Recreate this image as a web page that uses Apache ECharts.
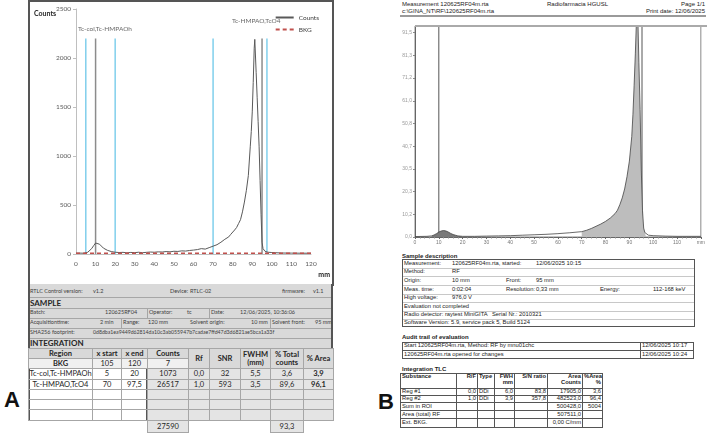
<!DOCTYPE html>
<html>
<head>
<meta charset="utf-8">
<script src="https://cdn.jsdelivr.net/npm/echarts@6/dist/echarts.min.js"></script>
<style>
body{margin:0;width:708px;height:433px;background:#fff;position:relative;overflow:hidden;font-family:Lato,sans-serif;}
#chartA{position:absolute;left:28px;top:0;width:306px;height:286px;border:2px solid #555;box-sizing:border-box;}
#chartB{position:absolute;left:380px;top:20px;width:328px;height:232px;}
.t{position:absolute;white-space:nowrap;line-height:1;}
.bx{position:absolute;box-sizing:border-box;}
table{position:absolute;border-collapse:collapse;table-layout:fixed;}
table td,table th{padding:0;line-height:1;white-space:nowrap;overflow:hidden;}
#tA td,#tA th{border:1px solid #a6a6a6;font-size:7.5px;text-align:center;color:#262626;}
#tA th{background:#d9d9d9;font-weight:700;}
#tA .bk{background:#f0f0f0;}
#tA .g{background:#e4e4e4;}
#tA .nb{border:none;background:none;}
#tB{font-family:"Liberation Sans",Arial,sans-serif;}
#tB td{border:1px solid #555;font-size:5.8px;color:#222;text-align:right;padding:0 1px;}
#tB .l{text-align:left;}
#tB .hd td{font-weight:700;vertical-align:top;}
</style>
</head>
<body>
<div id="chartA"></div>
<div id="chartB"></div>
<div id="layer"></div>

<table id="tA" style="left:28px;top:348px;width:305px">
<colgroup><col style="width:64px"><col style="width:29px"><col style="width:26px"><col style="width:41px"><col style="width:21px"><col style="width:31px"><col style="width:30px"><col style="width:33px"><col style="width:30px"></colgroup>
<tr style="height:10px"><th>Region</th><th>x start</th><th>x end</th><th>Counts</th><th rowspan="2">Rf</th><th rowspan="2">SNR</th><th rowspan="2">FWHM<br>(mm)</th><th rowspan="2">% Total<br>counts</th><th rowspan="2">% Area</th></tr>
<tr style="height:10px"><td class="bk"><b>BKG</b></td><td class="bk">105</td><td class="bk">120</td><td class="bk">7</td></tr>
<tr style="height:11px"><td>Tc-col,Tc-HMPAOh</td><td>5</td><td>20</td><td class="g">1073</td><td class="g">0,0</td><td class="g">32</td><td class="g">5,5</td><td class="g">3,6</td><td class="g"><b>3,9</b></td></tr>
<tr style="height:10px"><td>Tc-HMPAO,TcO4</td><td>70</td><td>97,5</td><td class="g">26517</td><td class="g">1,0</td><td class="g">593</td><td class="g">3,5</td><td class="g">89,6</td><td class="g"><b>96,1</b></td></tr>
<tr style="height:10px"><td></td><td></td><td></td><td class="g"></td><td class="g"></td><td class="g"></td><td class="g"></td><td class="g"></td><td class="g"></td></tr>
<tr style="height:10px"><td></td><td></td><td></td><td class="g"></td><td class="g"></td><td class="g"></td><td class="g"></td><td class="g"></td><td class="g"></td></tr>
<tr style="height:11px"><td></td><td></td><td></td><td class="g"></td><td class="g"></td><td class="g"></td><td class="g"></td><td class="g"></td><td class="g"></td></tr>
<tr style="height:12px"><td class="nb"></td><td class="nb"></td><td class="nb"></td><td class="g">27590</td><td class="nb"></td><td class="nb"></td><td class="nb"></td><td class="g">93,3</td><td class="nb"></td></tr>
</table>

<table id="tB" style="left:400px;top:373px;width:202px">
<colgroup><col style="width:56px"><col style="width:21px"><col style="width:17px"><col style="width:20px"><col style="width:33px"><col style="width:35px"><col style="width:20px"></colgroup>
<tr class="hd" style="height:15px"><td class="l">Substance</td><td>R/F</td><td class="l">Type</td><td>FWH<br>mm</td><td>S/N ratio</td><td>Area<br>Counts</td><td>%Area<br>%</td></tr>
<tr style="height:7px"><td class="l">Reg #1</td><td>0,0</td><td class="l">DDi</td><td>6,0</td><td>83,8</td><td>17905,0</td><td>3,6</td></tr>
<tr style="height:7px"><td class="l">Reg #2</td><td>1,0</td><td class="l">DDi</td><td>3,9</td><td>357,8</td><td>482523,0</td><td>96,4</td></tr>
<tr style="height:8px"><td class="l">Sum in ROI</td><td></td><td></td><td></td><td></td><td>500428,0</td><td>5004</td></tr>
<tr style="height:8px"><td class="l">Area (total) RF</td><td></td><td></td><td></td><td></td><td>507511,0</td><td></td></tr>
<tr style="height:9px"><td class="l">Ext. BKG.</td><td></td><td></td><td></td><td></td><td>0,00 C/mm</td><td></td></tr>
</table>

<script>
// ---- panel A : RTLC chromatogram ----
var aX = [0, 2, 4, 5, 6, 7, 8, 9, 10, 11, 12, 13, 14, 15, 16, 17, 18, 19, 20, 22, 24, 26, 28, 30, 32, 34, 36, 38, 40, 42, 44, 46, 48, 50, 52, 54, 56, 58, 60, 62, 64, 66, 68, 70, 71, 72, 73, 74, 75, 76, 77, 78, 79, 80, 81, 82, 83, 84, 85, 86, 87, 88, 89, 89.5, 90, 90.5, 91, 91.3, 92, 92.5, 93, 93.5, 94, 94.5, 95, 95.5, 96, 96.5, 97, 98, 100, 102, 105, 110, 115, 120];
var aCounts = [8, 9, 8, 10, 18, 30, 55, 85, 112, 108, 100, 85, 60, 45, 38, 35, 25, 22, 18, 15, 17, 12, 16, 14, 18, 13, 17, 20, 18, 22, 20, 25, 22, 28, 26, 32, 30, 36, 40, 45, 55, 50, 65, 80, 82, 95, 105, 120, 140, 150, 155, 175, 200, 220, 245, 270, 310, 350, 430, 530, 650, 800, 1100, 1250, 1450, 1750, 2100, 2190, 1850, 1600, 1350, 1100, 750, 400, 120, 55, 35, 28, 22, 18, 15, 13, 10, 9, 8, 8];
var bkgX = [0, 120];
var bkgY = [7, 7];
var blueLines = [5, 20, 70, 97.5];
var grayLines = [10, 95];
var lineTop = 2200;
var regionNames = ['Tc-col,Tc-HMPAOh', 'Tc-HMPAO,TcO4'];
var regionLabelX = [14.8, 92];
var regionLabelY = [2296, 2378];

// ---- panel B : MiniGITA printout ----
var bX = [0, 5, 7, 8, 9, 10, 11, 12, 13, 14, 15, 16, 17, 18, 19, 20, 25, 30, 35, 40, 45, 50, 55, 60, 65, 70, 72, 74, 76, 78, 80, 82, 84, 85, 86, 87, 88, 89, 90, 91, 91.5, 92, 92.5, 93, 93.3, 93.6, 94, 94.5, 95, 95.5, 96, 96.5, 97, 98, 100, 105, 110, 115, 120];
var bY = [0.2, 0.3, 0.5, 0.9, 1.5, 2.2, 2.7, 2.9, 2.7, 2.2, 1.6, 1.1, 0.8, 0.5, 0.4, 0.3, 0.3, 0.4, 0.5, 0.6, 0.8, 1.0, 1.2, 1.5, 1.9, 2.4, 3.0, 3.8, 4.8, 5.8, 7.0, 8.5, 10.5, 12.0, 14.5, 17.5, 21.5, 27, 34, 45, 55, 68, 82, 98, 120, 96, 78, 57, 30, 12, 4, 2, 1.2, 0.8, 0.6, 0.4, 0.3, 0.3, 0.3];
var bRegions = [[7, 20], [70, 97]];
var bYTicks = ['0,0', '10,2', '20,3', '30,5', '40,7', '50,8', '61,0', '71,2', '81,3', '91,5'];
var bXTicks = ['0', '10', '20', '30', '40', '50', '60', '70', '80', '90', '100', '110', 'mm'];
var bMarkers = [10, 95.3];

function pairs(xs, ys) {
  return xs.map(function (x, i) { return [x, ys[i]]; });
}
function vline(x, top, color, w) {
  return { type: 'line', data: [[x, 0], [x, top]], symbol: 'none', silent: true, z: 1,
    lineStyle: { color: color, width: w } };
}

var chartA = echarts.init(document.getElementById('chartA'));
var seriesA = [
  { name: 'Counts', type: 'line', data: pairs(aX, aCounts), symbol: 'none', z: 3, color: '#595959',
    itemStyle: { color: '#595959' }, lineStyle: { color: '#595959', width: 1 } },
  { name: 'BKG', type: 'line', data: pairs(bkgX, bkgY), symbol: 'none', z: 4, color: '#c0504d',
    itemStyle: { color: '#c0504d' }, lineStyle: { color: '#c0504d', width: 1.5, type: [4, 3] } }
];
blueLines.forEach(function (x) { seriesA.push(vline(x, lineTop, '#80cfec', 1.5)); });
grayLines.forEach(function (x) { seriesA.push(vline(x, lineTop, '#8c8c8c', 1.5)); });
seriesA.push({
  type: 'scatter', symbolSize: 1, itemStyle: { color: 'rgba(0,0,0,0)' }, silent: true,
  data: regionNames.map(function (n, i) {
    return { value: [regionLabelX[i], regionLabelY[i]], name: n };
  }),
  label: { show: true, position: 'inside', formatter: '{b}', color: '#404040', fontSize: 6.5, fontFamily: 'Lato' }
});
chartA.setOption({
  animation: false,
  backgroundColor: '#fff',
  textStyle: { fontFamily: 'Lato' },
  grid: { left: 46, right: 21, top: 7, bottom: 30 },
  legend: {
    data: ['Counts', 'BKG'], orient: 'vertical', right: 8, top: 7,
    itemWidth: 18, itemHeight: 6, itemGap: 5,
    itemStyle: { color: 'rgba(0,0,0,0)', borderWidth: 0 },
    textStyle: { fontSize: 6.5, color: '#404040' }
  },
  xAxis: {
    type: 'value', min: 0, max: 120, interval: 10,
    axisLine: { show: true, lineStyle: { color: '#bfbfbf' } },
    axisTick: { show: false },
    splitLine: { show: false },
    axisLabel: { fontSize: 6.5, color: '#595959', margin: 6, formatter: function (v) { return String(v); } }
  },
  yAxis: {
    type: 'value', min: 0, max: 2500, interval: 500,
    axisLine: { show: true, lineStyle: { color: '#bfbfbf' } },
    axisTick: { show: true, length: 3, lineStyle: { color: '#bfbfbf' } },
    splitLine: { show: false },
    axisLabel: { fontSize: 6.5, color: '#595959', margin: 5, formatter: function (v) { return String(v); } }
  },
  graphic: [
    { type: 'text', left: 4, top: 8, style: { text: 'Counts', fontSize: 7, fontWeight: 'bold', fill: '#262626', fontFamily: 'Lato' } },
    { type: 'text', right: 2, bottom: 6, style: { text: 'mm', fontSize: 7, fontWeight: 'bold', fill: '#262626', fontFamily: 'Lato' } }
  ],
  series: seriesA
});

var chartB = echarts.init(document.getElementById('chartB'));
var seriesB = [];
var regColors = ['#7a7a7a', '#bdbdbd'];
bRegions.forEach(function (r, k) {
  var d = pairs(bX, bY).filter(function (p) { return p[0] >= r[0] && p[0] <= r[1]; });
  seriesB.push({ type: 'line', data: d, symbol: 'none', z: 2, silent: true,
    lineStyle: { width: 0 }, areaStyle: { color: regColors[k], opacity: 1 } });
});
seriesB.push({ type: 'line', data: pairs(bX, bY), symbol: 'none', z: 3,
  lineStyle: { color: '#444', width: 0.8 } });
bMarkers.forEach(function (x) { seriesB.push(vline(x, 94.5, '#555', 1)); });
chartB.setOption({
  animation: false,
  textStyle: { fontFamily: 'Liberation Sans' },
  grid: { left: 35, right: 1, top: 6, bottom: 15, show: true, borderColor: '#8a8a8a', borderWidth: 1 },
  xAxis: {
    type: 'value', min: 0, max: 120, interval: 10,
    axisLine: { show: true, onZero: false, lineStyle: { color: '#666' } },
    axisTick: { show: true, length: 2, lineStyle: { color: '#666' } },
    minorTick: { show: true, splitNumber: 5, length: 1.5, lineStyle: { color: '#888' } },
    splitLine: { show: false },
    axisLabel: { fontSize: 5, color: '#777', margin: 3,
      formatter: function (v, i) { return bXTicks[i]; } }
  },
  yAxis: {
    type: 'value', min: 0, max: 94.5, interval: 91.5 / 9,
    axisLine: { show: true, lineStyle: { color: '#666' } },
    axisTick: { show: true, length: 2, lineStyle: { color: '#888' } },
    splitLine: { show: false },
    axisLabel: { fontSize: 5, color: '#999', margin: 3, showMaxLabel: false,
      formatter: function (v, i) { return bYTicks[i] || ''; } }
  },
  series: seriesB
});

// ---- text and boxes around the charts ----
var layer = document.getElementById('layer');
function box(x, y, w, h, st) {
  var d = document.createElement('div');
  d.className = 'bx';
  d.style.cssText = 'left:' + x + 'px;top:' + y + 'px;width:' + w + 'px;height:' + h + 'px;' + (st || '');
  layer.appendChild(d);
}
function t(x, y, s, size, st, align) {
  var d = document.createElement('div');
  d.className = 't';
  var css = 'top:' + y + 'px;font-size:' + size + 'px;' + (st || '');
  if (align === 'r') css += 'right:' + (708 - x) + 'px;transform:translateY(-50%);';
  else css += 'left:' + x + 'px;transform:translateY(-50%);';
  d.style.cssText = css;
  d.textContent = s;
  layer.appendChild(d);
}

// panel A info rows
box(28, 284, 305, 64, 'background:#d9d9d9;');
[297, 308, 318, 328, 338].forEach(function (y) { box(28, y, 305, 1, 'background:#a6a6a6;'); });
box(147, 308, 1, 10, 'background:#a6a6a6;');
box(209, 308, 1, 10, 'background:#a6a6a6;');
box(121, 318, 1, 10, 'background:#a6a6a6;');
box(270, 318, 1, 10, 'background:#a6a6a6;');
box(28, 284, 2, 137, 'background:#555;');
box(331, 284, 2, 137, 'background:#555;');
box(146, 368, 2, 52, 'background:#555;');
var small = 'color:#404040;';
t(30, 291.5, 'RTLC Control version:', 5.5, small);
t(93, 291.5, 'v1.2', 5.5, small);
t(170, 291.5, 'Device:', 5.5, small);
t(190, 291.5, 'RTLC-02', 5.5, small);
t(282, 291.5, 'firmware:', 5.5, small);
t(313, 291.5, 'v1.1', 5.5, small);
t(30, 302.5, 'SAMPLE', 8, 'font-weight:700;color:#262626;');
t(30, 313, 'Batch:', 5.5, small);
t(105, 313, '120625RF04', 5.5, small);
t(149, 313, 'Operator:', 5.5, small);
t(187, 313, 'tc', 5.5, small);
t(211, 313, 'Date:', 5.5, small);
t(240, 313, '12/06/2025, 10:36:06', 5.5, small);
t(30, 323, 'Acquisitiontime:', 5.5, small);
t(100, 323, '2 min', 5.5, small);
t(123, 323, 'Range:', 5.5, small);
t(148, 323, '120 mm', 5.5, small);
t(190, 323, 'Solvent origin:', 5.5, small);
t(251, 323, '10 mm', 5.5, small);
t(272, 323, 'Solvent front:', 5.5, small);
t(315, 323, '95 mm', 5.5, small);
t(30, 333, 'SHA256 footprint:', 5.5, small);
t(93, 333, '0d8dba1ea9449d62814da10c3ab055947b7cadae7ffd47d3d6821ae5bca1a33f', 5.2, small);
t(30, 343, 'INTEGRATION', 8, 'font-weight:700;color:#262626;');
t(4, 400, 'A', 22, 'font-weight:700;font-family:"Liberation Sans",Arial;color:#111;');

// panel B header and boxes
var bf = 'font-family:"Liberation Sans",Arial;color:#222;';
t(402, 4, 'Measurement 120625RF04m.rta', 6, bf);
t(402, 11, 'c:\\GINA_NT\\RF\\120625RF04m.rta', 6, bf);
t(547, 4, 'Radiofarmacia HGUSL', 6, bf);
t(705, 4, 'Page  1/1', 6, bf, 'r');
t(705, 11, 'Print date:  12/06/2025', 6, bf, 'r');
box(400, 15, 306, 2, 'background:#9a9a9a;');
box(415, 25, 292, 2, 'background:#aaa;');

t(402, 256, 'Sample description', 6, bf + 'font-weight:700;');
box(402, 259, 293, 68, 'border:1px solid #555;');
[268, 276, 285, 294, 302, 311, 319].forEach(function (y) { box(403, y, 291, 1, 'background:#c8c8c8;'); });
var sd = [
  [263.5, [[404, 'Measurement:'], [452, '120625RF04m.rta, started:'], [536, '12/06/2025  10:15']]],
  [272, [[404, 'Method:'], [452, 'RF']]],
  [280.5, [[404, 'Origin:'], [452, '10 mm'], [506, 'Front:'], [536, '95 mm']]],
  [289.5, [[404, 'Meas. time:'], [452, '0:02:04'], [506, 'Resolution:'], [536, '0,33 mm'], [600, 'Energy:'], [653, '112-168 keV']]],
  [298, [[404, 'High voltage:'], [452, '976,0 V']]],
  [306.5, [[404, 'Evaluation not completed']]],
  [315, [[404, 'Radio detector: raytest MiniGITA'], [492, 'Serial Nr.: 2010321']]],
  [323, [[404, 'Software Version: 5.9, service pack 5, Build 5124']]]
];
sd.forEach(function (row) { row[1].forEach(function (c) { t(c[0], row[0], c[1], 5.8, bf); }); });

t(402, 337, 'Audit trail of evaluation', 6, bf + 'font-weight:700;');
box(402, 342, 292, 17, 'border:1px solid #555;');
box(403, 350, 290, 1, 'background:#555;');
box(640, 342, 1, 17, 'background:#555;');
t(404, 346, 'Start 120625RF04m.rta, Method: RF by mnu01chc', 5.8, bf);
t(642, 346, '12/06/2025 10:17', 5.8, bf);
t(404, 354.5, '120625RF04m.rta opened for changes', 5.8, bf);
t(642, 354.5, '12/06/2025 10:24', 5.8, bf);

t(402, 369, 'Integration TLC', 6, bf + 'font-weight:700;');
t(378, 402, 'B', 22, 'font-weight:700;font-family:"Liberation Sans",Arial;color:#111;');
</script>
</body>
</html>
